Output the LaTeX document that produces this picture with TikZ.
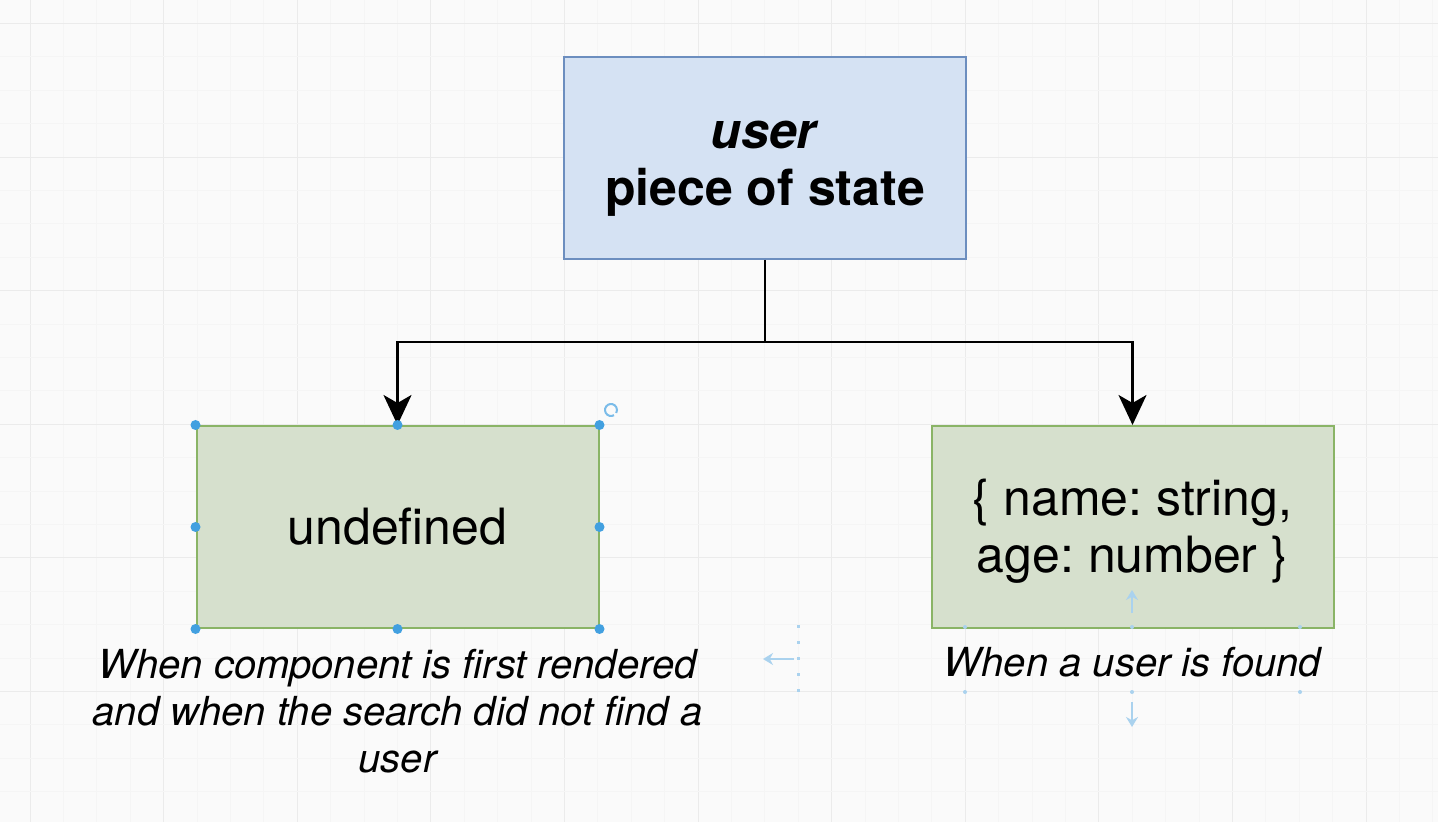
\documentclass[tikz,border=0pt]{standalone}
\usepackage{fontspec}
\setmainfont{TeX Gyre Heros}
\usetikzlibrary{arrows.meta,positioning}
\definecolor{bluefill}{RGB}{213,226,243}
\definecolor{blueline}{RGB}{108,142,191}
\definecolor{greenfill}{RGB}{214,224,205}
\definecolor{greenline}{RGB}{138,180,102}
\definecolor{handleblue}{RGB}{66,160,224}
\definecolor{guideblue}{RGB}{170,210,238}
\frenchspacing

\begin{document}
\begin{tikzpicture}[x=0.5pt, y=-0.5pt,
	comp/.style={rectangle, draw=blueline, fill=bluefill, line width=1pt, minimum width=201pt, minimum height=101pt, align=center, font=\fontsize{25}{28.5}\selectfont\bfseries},
	leaf/.style={rectangle, draw=greenline, fill=greenfill, line width=1pt, minimum width=201pt, minimum height=101pt, align=center, font=\fontsize{25}{28.5}\selectfont},
	note/.style={align=center, font=\fontsize{20}{23.5}\selectfont\itshape},
	conn/.style={line width=1.3pt, -{Stealth[length=15pt, width=14pt, inset=4pt]}},
	handle/.style={fill=handleblue},
	guide/.style={guideblue, line width=1.5pt, dash pattern=on 1.5pt off 6.5pt},
	guidearr/.style={guideblue, line width=1.2pt, -{Stealth[length=5pt, width=6pt]}}]
	\useasboundingbox (0,0) rectangle (1438,822);
	\fill[black!2] (0,0) rectangle (1438,822);
	% grid
	\foreach \i in {0,...,42} {
		\pgfmathtruncatemacro{\m}{mod(\i,4)}
		\ifnum\m=0 \def\gc{black!8}\else\def\gc{black!4}\fi
		\draw[\gc, line width=0.5pt] ({30+33.4*\i},0) -- ({30+33.4*\i},822);
	}
	\foreach \i in {0,...,24} {
		\pgfmathtruncatemacro{\m}{mod(\i,4)}
		\ifnum\m=0 \def\gc{black!8}\else\def\gc{black!4}\fi
		\draw[\gc, line width=0.5pt] (0,{23.5+33.4*\i}) -- (1438,{23.5+33.4*\i});
	}

	\node[comp] (n1) at (765,158) {\rule{0pt}{24pt}\textit{user}\\piece of state};
	\node[leaf, below=82.5pt of n1, xshift=-183.75pt] (n2) {undefined};
	\node[leaf, below=82.5pt of n1, xshift=183.75pt] (n3) {\rule{0pt}{22pt}\{ name: string,\\age: number \}};

	\node[note, below=6.5pt of n2] (n2note) {When component is first rendered\\and when the search did not find a\\user};
	\node[note, below=5.5pt of n3] (n3note) {When a user is found};

	\draw[line width=1.3pt] (n1.south) -- ++(0,82) coordinate (split);
	\draw[conn] (split) -| (n2.north);
	\draw[conn] (split) -| (n3.north);

	% selection handles
	\foreach \a in {north west,north,north east,east,south east,south,south west,west}
		\fill[handle] (n2.\a) circle (2.5pt);
	\draw[handleblue!70, line width=1pt] (611,410) ++(60:6) arc (60:390:6);

	% guides
	\draw[guide] (798,625) -- (798,693);
	\draw[guidearr] (794,659) -- (763,659);
	\foreach \x in {965,1132,1300} {
		\fill[guideblue] (\x,627) circle (1pt);
		\fill[guideblue] (\x,692) circle (1pt);
	}
	\draw[guidearr] (1132,613) -- (1132,590);
	\draw[guidearr] (1132,702) -- (1132,727);
\end{tikzpicture}
\end{document}
